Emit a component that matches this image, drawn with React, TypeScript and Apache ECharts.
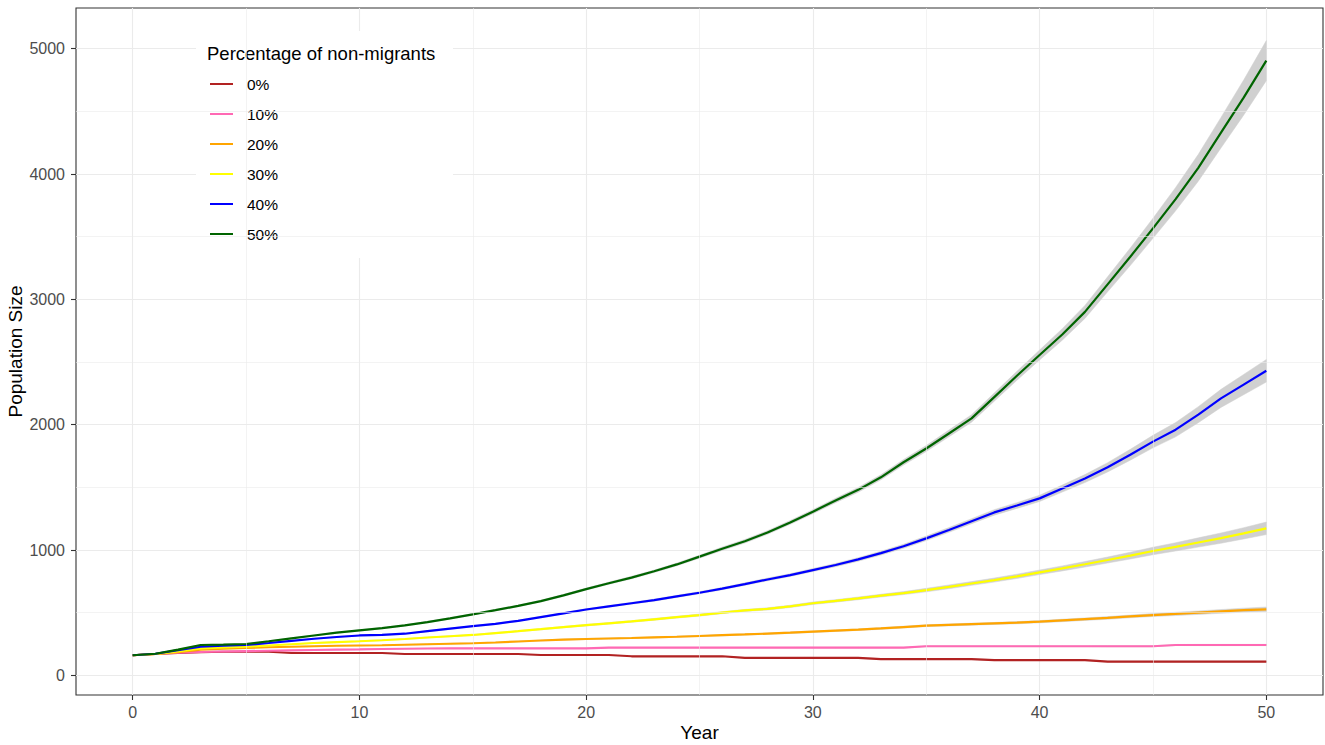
import React, { useEffect, useRef } from "react";
import * as echarts from "echarts";

const years = [0,1,2,3,4,5,6,7,8,9,10,11,12,13,14,15,16,17,18,19,20,21,22,23,24,25,26,27,28,29,30,31,32,33,34,35,36,37,38,39,40,41,42,43,44,45,46,47,48,49,50];

const seriesNames = ["0%", "10%", "20%", "30%", "40%", "50%"];
const seriesColors = ["#B22222", "#FF69B4", "#FFA500", "#FFFF00", "#0000FF", "#006400"];

const pop0 = [160,170,178,185,188,188,188,178,178,178,178,178,170,170,170,170,170,170,162,162,162,162,152,152,152,152,152,140,140,140,140,140,140,130,130,130,130,130,121,121,121,121,121,110,110,110,110,110,110,110,110];
const pop10 = [160,170,180,186,190,193,196,199,202,205,207,210,212,214,215,215,215,215,215,215,215,221,221,221,221,221,221,221,221,221,221,221,221,221,221,232,232,232,232,232,232,232,232,232,232,232,242,242,242,242,242];
const pop20 = [160,170,185,205,212,218,224,228,232,236,238,240,244,248,252,256,262,270,278,285,290,294,298,303,308,314,320,326,333,340,348,356,364,374,385,396,402,408,414,420,428,438,448,458,470,481,490,500,510,520,527];
const pop30 = [160,170,190,215,222,228,238,248,258,265,272,280,290,302,312,322,337,352,368,385,400,415,430,447,464,481,500,518,530,550,575,594,614,636,656,680,706,733,760,790,822,853,886,920,955,992,1025,1060,1095,1133,1173];
const pop40 = [160,172,200,228,236,242,258,275,292,306,318,322,332,352,372,392,410,435,465,495,525,550,575,600,630,659,692,728,765,800,840,880,925,975,1030,1093,1160,1230,1300,1355,1412,1490,1570,1660,1760,1865,1960,2080,2210,2320,2430];
const pop50 = [160,172,205,242,245,250,272,295,318,340,358,376,398,425,455,487,520,554,592,638,688,735,780,830,885,947,1010,1070,1140,1220,1306,1395,1480,1580,1700,1810,1930,2050,2220,2390,2556,2720,2900,3120,3340,3567,3800,4050,4330,4610,4905];

// ribbon half-widths (confidence band)
const band0 = [0,1,1,1,1,1,1,1,1,1,2,2,2,2,2,2,2,2,2,2,2,2,2,2,2,2,2,2,2,2,3,3,3,3,3,3,3,3,3,3,3,3,3,4,4,4,4,4,4,4,4];
const band10 = [0,1,1,1,1,1,1,1,1,1,2,2,2,2,2,2,2,2,2,2,2,2,2,2,2,2,2,2,2,2,3,3,3,3,3,3,3,3,3,3,3,3,3,4,4,4,4,5,5,5,5];
const band20 = [0,1,1,1,1,2,2,2,2,2,2,2,2,3,3,3,3,3,3,4,4,4,4,4,5,5,5,5,5,6,6,6,6,7,7,7,8,8,8,9,9,10,10,11,11,12,13,14,15,16,18];
const band30 = [0,1,1,2,2,2,2,2,3,3,3,3,3,3,4,4,4,4,5,5,6,6,6,7,7,8,8,8,9,9,10,10,11,11,12,14,15,15,16,17,18,20,22,24,27,30,33,37,41,45,50];
const band40 = [0,1,2,2,3,3,3,3,4,4,4,4,4,5,5,5,5,5,6,6,6,7,7,8,8,9,9,10,11,11,12,13,14,15,16,18,19,20,22,23,25,28,32,37,43,50,57,64,72,81,90];
const band50 = [0,1,2,3,3,3,4,4,4,5,5,5,5,6,6,6,6,7,7,8,8,9,10,10,11,12,13,14,14,15,16,17,19,20,22,24,27,30,33,36,40,46,52,60,70,80,93,107,122,140,160];

const xTicks = [0, 10, 20, 30, 40, 50];
const yTicks = [0, 1000, 2000, 3000, 4000, 5000];
const xMinor = [5, 15, 25, 35, 45];
const yMinor = [500, 1500, 2500, 3500, 4500];

const legendTitle = "Percentage of non-migrants";
const xTitle = "Year";
const yTitle = "Population Size";

const FONT = "Liberation Sans, Arial, sans-serif";

export default function App() {
  const ref = useRef<HTMLDivElement>(null);

  useEffect(() => {
    const chart = echarts.init(ref.current as HTMLDivElement, null, { renderer: "svg" });
    const values = [pop0, pop10, pop20, pop30, pop40, pop50];
    const bands = [band0, band10, band20, band30, band40, band50];

    const series: any[] = [];

    // minor grid lines
    series.push({
      type: "line",
      name: "minor-grid",
      data: [[years[0], pop50[0]]],
      symbol: "none",
      lineStyle: { opacity: 0 },
      silent: true,
      z: 0,
      markLine: {
        silent: true,
        symbol: ["none", "none"],
        label: { show: false },
        emphasis: { disabled: true },
        lineStyle: { color: "#EBEBEB", width: 0.6, type: "solid" },
        data: [
          ...yMinor.map((v) => ({ yAxis: v })),
          ...xMinor.map((v) => ({ xAxis: v })),
        ],
      },
    });

    // confidence ribbons as polygons through the axes' scales
    values.forEach((v, k) => {
      const b = bands[k];
      const rows = years.map((t, i) => [t, v[i] - b[i], v[i] + b[i]]);
      series.push({
        type: "custom",
        name: "ribbon-" + k,
        data: rows,
        silent: true,
        z: 1,
        encode: { x: 0, y: [1, 2] },
        renderItem: (params: any, api: any) => {
          if (params.dataIndex !== 0) return null;
          const upper = rows.map((r) => api.coord([r[0], r[2]]));
          const lower = rows.map((r) => api.coord([r[0], r[1]])).reverse();
          return {
            type: "polygon",
            shape: { points: upper.concat(lower) },
            style: { fill: "#D0D0D0", stroke: "#D0D0D0", lineWidth: 0.5 },
          };
        },
      });
    });

    values.forEach((v, k) => {
      series.push({
        type: "line",
        name: seriesNames[k],
        data: years.map((t, i) => [t, v[i]]),
        symbol: "none",
        lineStyle: { color: seriesColors[k], width: 2.2 },
        itemStyle: { color: seriesColors[k] },
        silent: true,
        z: 3,
      });
    });

    chart.setOption({
      animation: false,
      backgroundColor: "#FFFFFF",
      grid: {
        left: 76,
        top: 8,
        right: 2,
        bottom: 50,
        show: true,
        borderColor: "#333333",
        borderWidth: 1.1,
        backgroundColor: "transparent",
        containLabel: false,
        outerBoundsMode: "none",
      },
      xAxis: {
        type: "value",
        min: -2.5,
        max: 52.5,
        axisLine: { show: false, onZero: false },
        axisTick: {
          show: true,
          length: 5,
          customValues: xTicks,
          lineStyle: { color: "#333333", width: 1.1 },
        },
        axisLabel: {
          customValues: xTicks,
          margin: 9,
          fontSize: 16,
          color: "#4D4D4D",
          fontFamily: FONT,
          formatter: (val: number) => String(val),
        },
        splitLine: { show: true, lineStyle: { color: "#EBEBEB", width: 1.1 } },
        name: xTitle,
        nameLocation: "middle",
        nameGap: 28,
        nameMoveOverlap: false,
        nameTextStyle: { fontSize: 19, color: "#000000", fontFamily: FONT },
      },
      yAxis: {
        type: "value",
        min: -157,
        max: 5325,
        axisLine: { show: false, onZero: false },
        axisTick: {
          show: true,
          length: 5,
          customValues: yTicks,
          lineStyle: { color: "#333333", width: 1.1 },
        },
        axisLabel: {
          customValues: yTicks,
          margin: 11,
          fontSize: 16,
          color: "#4D4D4D",
          fontFamily: FONT,
          formatter: (val: number) => String(val),
        },
        splitLine: { show: true, lineStyle: { color: "#EBEBEB", width: 1.1 } },
        name: yTitle,
        nameLocation: "middle",
        nameGap: 51,
        nameMoveOverlap: false,
        nameTextStyle: { fontSize: 19, color: "#000000", fontFamily: FONT },
      },
      legend: {
        data: seriesNames,
        orient: "vertical",
        left: 210,
        top: 76,
        padding: 0,
        itemWidth: 23,
        itemHeight: 2,
        itemGap: 14,
        icon: "rect",
        selectedMode: false,
        textStyle: {
          fontFamily: FONT,
          fontSize: 15.5,
          color: "#000000",
          lineHeight: 16,
          padding: [0, 0, 0, 9],
        },
        z: 5,
      },
      graphic: [
        {
          type: "rect",
          shape: { x: 196, y: 31, width: 257, height: 227 },
          style: { fill: "#FFFFFF" },
          z: 1,
          silent: true,
        },
        {
          type: "text",
          x: 207,
          y: 53.5,
          style: {
            text: legendTitle,
            fontSize: 18.5,
            fontFamily: FONT,
            fill: "#000000",
            verticalAlign: "middle",
            align: "left",
          },
          z: 5,
          silent: true,
        },
      ],
      series,
    });

    return () => {
      chart.dispose();
    };
  }, []);

  return (
    <div
      ref={ref}
      style={{ position: "fixed", left: 0, top: 0, width: 1325, height: 745 }}
    />
  );
}
